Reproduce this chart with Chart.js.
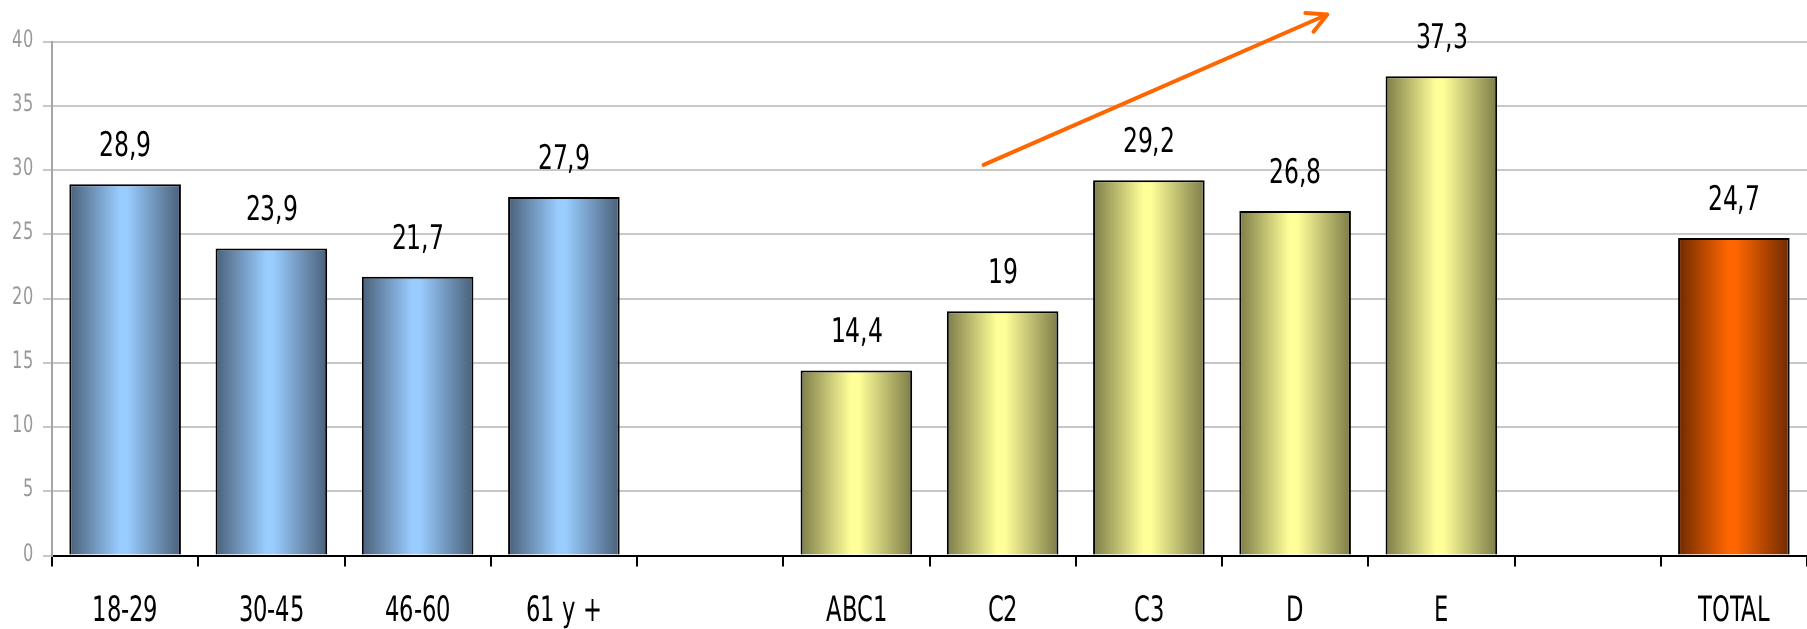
<!DOCTYPE html>
<html>
<head>
<meta charset="utf-8">
<script src="https://cdn.jsdelivr.net/npm/chart.js@4"></script>
<style>
  @font-face { font-family: 'CondA'; src: local('DejaVu Sans Condensed'), local('DejaVuSansCondensed'); }
  html, body { margin: 0; padding: 0; background: #fff; }
  #wrap { width: 1807px; height: 629px; }
</style>
</head>
<body>
<div id="wrap"><canvas id="myChart"></canvas></div>
<script>
const ctx = document.getElementById('myChart');

// data
const ageGroups = ['18-29', '30-45', '46-60', '61 y +'];
const ageValues = [28.9, 23.9, 21.7, 27.9];
const nseGroups = ['ABC1', 'C2', 'C3', 'D', 'E'];
const nseValues = [14.4, 19, 29.2, 26.8, 37.3];
const totalLabels = ['TOTAL'];
const totalValues = [24.7];
const yTicks = [0, 5, 10, 15, 20, 25, 30, 35, 40];

// trend arrow, in data units (category index, value)
const trendFrom = { x: 5.87, y: 30.4 };
const trendTo = { x: 8.22, y: 42.1 };

const labels = [...ageGroups, '', ...nseGroups, '', ...totalLabels];
const values = [...ageValues, null, ...nseValues, null, ...totalValues];
const groups = [
  ...ageGroups.map(() => 'age'), null,
  ...nseGroups.map(() => 'nse'), null,
  ...totalLabels.map(() => 'total')
];

const palette = {
  age:   { edge: '#4a6079', mid: '#99ccff' },
  nse:   { edge: '#7d7c48', mid: '#ffff99' },
  total: { edge: '#6e2a00', mid: '#ff6600' }
};

const FONT = "CondA, 'DejaVu Sans', sans-serif";
const BAR_PCT = 0.763;

function barFill(c) {
  const g = groups[c.dataIndex];
  if (!g) return 'rgba(0,0,0,0)';
  const p = palette[g];
  const xs = c.chart.scales.x;
  if (!xs || !c.chart.chartArea) return p.mid;
  const center = xs.getPixelForValue(c.dataIndex);
  const half = xs.width / labels.length * BAR_PCT / 2;
  const grad = c.chart.ctx.createLinearGradient(center - half, 0, center + half, 0);
  grad.addColorStop(0, p.edge);
  grad.addColorStop(0.45, p.mid);
  grad.addColorStop(0.52, p.mid);
  grad.addColorStop(1, p.edge);
  return grad;
}

// the original uses a narrow face, so squeeze the text horizontally
function narrowText(c, txt, x, y, align, size, squeeze, color) {
  c.save();
  c.translate(x, y);
  c.scale(squeeze, 1);
  c.font = size + 'px ' + FONT;
  c.fillStyle = color;
  c.textAlign = align;
  c.textBaseline = 'alphabetic';
  c.fillText(txt, 0, 0);
  c.restore();
}

const textLayer = {
  id: 'textLayer',
  afterDatasetsDraw(chart) {
    const c = chart.ctx;
    const xs = chart.scales.x, ys = chart.scales.y;
    // y tick labels
    yTicks.forEach(v => {
      narrowText(c, String(v), xs.left - 19, ys.getPixelForValue(v) + 5, 'right', 24, 0.75, '#999');
    });
    // category labels
    labels.forEach((lab, i) => {
      if (!lab) return;
      narrowText(c, lab, xs.getPixelForValue(i), ys.bottom + 65, 'center', 35, 0.72, '#000');
    });
    // value labels
    chart.getDatasetMeta(0).data.forEach((bar, i) => {
      const v = values[i];
      if (v == null) return;
      narrowText(c, String(v).replace('.', ','), bar.x, bar.y - 28, 'center', 34, 0.77, '#000');
    });
  }
};

const trendArrow = {
  id: 'trendArrow',
  afterDraw(chart) {
    const xs = chart.scales.x, ys = chart.scales.y;
    const step = xs.width / labels.length;
    const px = v => xs.left + step * (v + 0.5);
    const x1 = px(trendFrom.x), y1 = ys.getPixelForValue(trendFrom.y);
    const x2 = px(trendTo.x), y2 = ys.getPixelForValue(trendTo.y);
    const c = chart.ctx;
    c.save();
    c.strokeStyle = '#ff6600';
    c.lineWidth = 4;
    c.lineCap = 'round';
    c.lineJoin = 'round';
    c.beginPath();
    c.moveTo(x1, y1);
    c.lineTo(x2, y2);
    const back = Math.atan2(y1 - y2, x1 - x2);
    const len = 22, spread = 0.48;
    c.moveTo(x2 + len * Math.cos(back - spread), y2 + len * Math.sin(back - spread));
    c.lineTo(x2, y2);
    c.lineTo(x2 + len * Math.cos(back + spread), y2 + len * Math.sin(back + spread));
    c.stroke();
    c.restore();
  }
};

function draw() {
  new Chart(ctx, {
    type: 'bar',
    data: {
      labels: labels,
      datasets: [{
        data: values,
        backgroundColor: barFill,
        borderColor: '#000',
        borderWidth: 2,
        categoryPercentage: 1,
        barPercentage: BAR_PCT
      }]
    },
    options: {
      responsive: true,
      maintainAspectRatio: false,
      animation: false,
      layout: { padding: { top: 41.5, right: -5, left: 0, bottom: 0 } },
      plugins: {
        legend: { display: false },
        tooltip: { enabled: false }
      },
      scales: {
        x: {
          afterFit: s => { s.height = 73.5; },
          border: { color: '#000', width: 2 },
          grid: {
            drawOnChartArea: false,
            drawTicks: true,
            tickLength: 11,
            color: '#000',
            lineWidth: 2,
            offset: true
          },
          ticks: {
            color: 'rgba(0,0,0,0)',
            font: { family: FONT, size: 32 },
            padding: 20,
            maxRotation: 0,
            autoSkip: false
          }
        },
        y: {
          min: 0,
          max: 40,
          afterFit: s => { s.width = 52; },
          afterBuildTicks: s => { s.ticks = yTicks.map(v => ({ value: v })); },
          border: { color: '#a6a6a6', width: 2 },
          grid: {
            color: '#c8c8c8',
            lineWidth: 2,
            tickLength: 9
          },
          ticks: {
            color: 'rgba(0,0,0,0)',
            font: { family: FONT, size: 20 },
            padding: 12
          }
        }
      }
    },
    plugins: [textLayer, trendArrow]
  });
}

document.fonts.load('34px CondA').catch(() => {}).then(draw);
</script>
</body>
</html>
